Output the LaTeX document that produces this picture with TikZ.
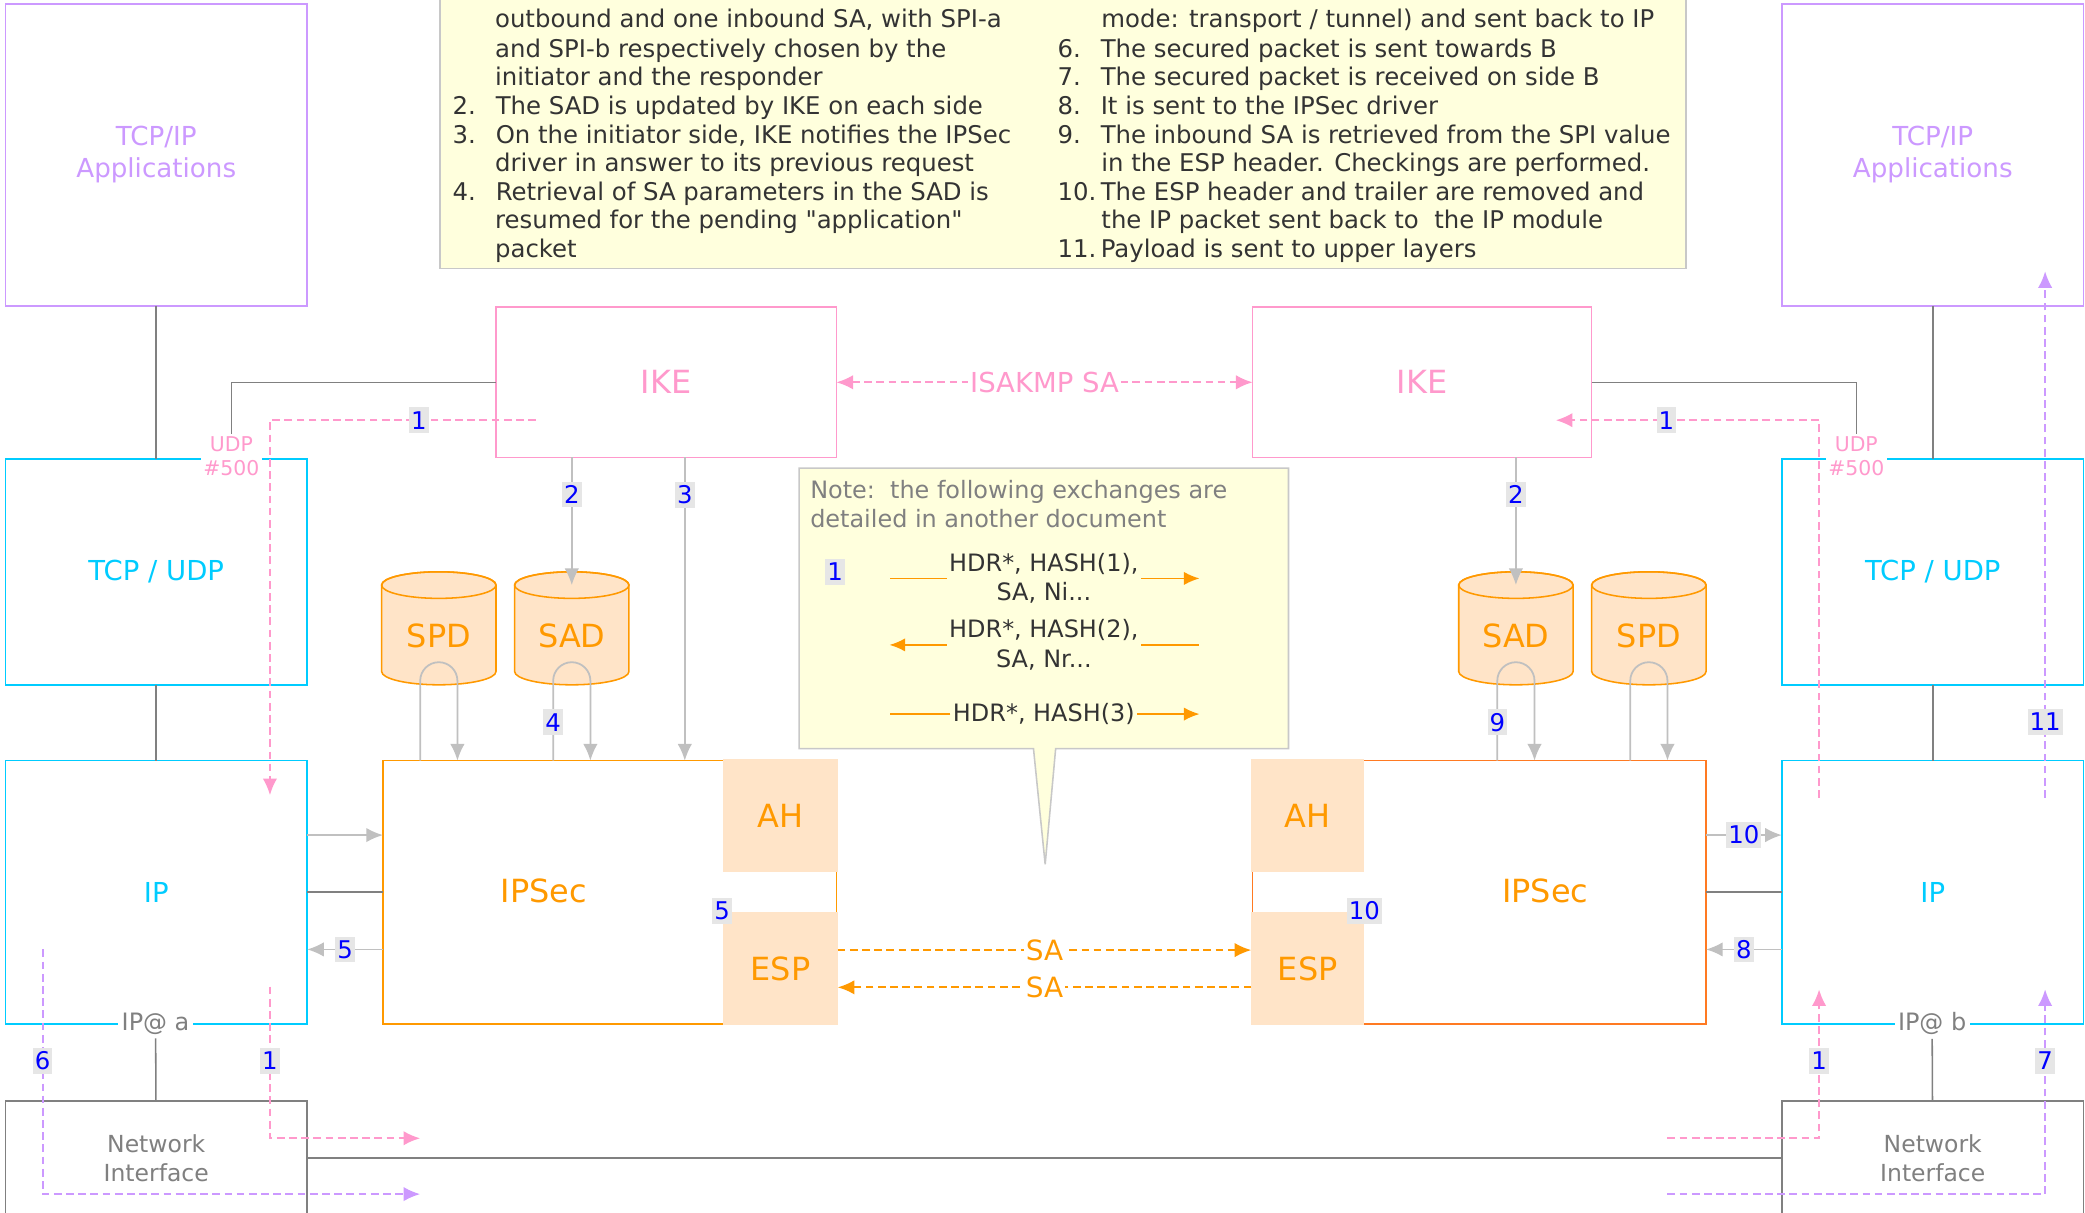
\documentclass[tikz,border=0pt]{standalone}
\usepackage{fontspec}
\setmainfont{DejaVu Sans}[Ligatures=TeXOff]
\usetikzlibrary{arrows.meta,calc,shapes.callouts}
\definecolor{cpurple}{HTML}{CC99FF}
\definecolor{ccyan}{HTML}{00CCFF}
\definecolor{cpink}{HTML}{FF99CC}
\definecolor{corange}{HTML}{FF9900}
\definecolor{corangeR}{HTML}{FF7A22}
\definecolor{cpeach}{HTML}{FFE4C8}
\definecolor{cgray}{HTML}{808080}
\definecolor{clgray}{HTML}{C0C0C0}
\definecolor{cnote}{HTML}{FFFFDD}
\definecolor{cnoteb}{HTML}{C8C8C8}
\definecolor{ctext}{HTML}{333333}
\definecolor{cnum}{HTML}{E6E6E6}
\newcommand\fsz[2]{\fontsize{#1}{#2}\selectfont}
\newcommand\mkbox[7]{\node[#6,minimum width={(#4-#2)*0.6pt},minimum height={(#5-#3)*0.6pt}] (#1) at ({(#2+#4)/2},{(#3+#5)/2}) {#7};}
\newcommand\cyl[1]{%
  \filldraw[fill=cpeach,draw=corange,line width=0.7pt] (#1-43,440) -- (#1-43,505)
    arc[start angle=180,end angle=360,x radius=25.8pt,y radius=6pt] -- (#1+43,440)
    arc[start angle=0,end angle=180,x radius=25.8pt,y radius=6pt] -- cycle;
  \draw[draw=corange,line width=0.7pt] (#1,440) ellipse[x radius=25.8pt,y radius=6pt];}
\newcommand\numbx[1]{\makebox[19.5pt][l]{#1}}
\newcommand\dq{\char34\relax}
\begin{document}
\begin{tikzpicture}[x=0.6pt,y=-0.6pt,
  bx/.style={draw,line width=0.7pt,inner sep=0pt,outer sep=0pt,align=center},
  appb/.style={bx,draw=cpurple,text=cpurple,font=\fsz{11.8}{14.5}},
  netb/.style={bx,draw=ccyan,text=ccyan,font=\fsz{12.4}{15}},
  nib/.style={bx,draw=cgray,text=cgray,font=\fsz{10.6}{13}},
  ikeb/.style={bx,draw=cpink,text=cpink,font=\fsz{14.4}{17}},
  ipsecb/.style={bx,draw=#1},
  fillb/.style={fill=cpeach,inner sep=0pt,outer sep=0pt,text=corange,font=\fsz{14.4}{17}},
  dbn/.style={inner sep=0pt,outer sep=0pt,text=corange,font=\fsz{14.4}{17}},
  bigt/.style={text=corange,font=\fsz{14.4}{17},inner sep=0pt},
  notebox/.style={draw=cnoteb,fill=cnote,line width=0.7pt,inner sep=0pt},
  notet/.style={text=ctext,font=\fsz{11}{13},inner sep=0pt,anchor=base west},
  notegt/.style={text=cgray,font=\fsz{10.8}{13},inner sep=0pt,anchor=base west},
  xch/.style={text=ctext,font=\fsz{10.8}{13.2},align=center,inner xsep=1pt,inner ysep=0pt},
  gline/.style={draw=cgray,line width=0.7pt},
  garrow/.style={draw=clgray,line width=0.8pt,-{Latex[length=7.5pt,width=6.5pt]}},
  pinkd/.style={draw=cpink,line width=0.9pt,dash pattern=on 3.5pt off 2pt,-{Latex[length=7.5pt,width=6.5pt]}},
  pinkdd/.style={draw=cpink,line width=0.9pt,dash pattern=on 3.5pt off 2pt,{Latex[length=7.5pt,width=6.5pt]}-{Latex[length=7.5pt,width=6.5pt]}},
  purpd/.style={draw=cpurple,line width=0.9pt,dash pattern=on 3.5pt off 2pt,-{Latex[length=7.5pt,width=6.5pt]}},
  orad/.style={draw=corange,line width=0.9pt,dash pattern=on 3.5pt off 2pt,-{Latex[length=7.5pt,width=6.5pt]}},
  oline/.style={draw=corange,line width=0.7pt},
  oarrow/.style={draw=corange,line width=0.7pt,-{Latex[length=7pt,width=6pt]}},
  numl/.style={fill=cnum,text=blue,inner xsep=0.9pt,inner ysep=1.8pt,font=\fsz{11}{13},text height=8pt,text depth=0pt},
  wlbl/.style={fill=white,inner sep=1pt},
  addr/.style={fill=white,text=cgray,font=\fsz{10.8}{13},inner sep=1.5pt},
  udpl/.style={fill=white,text=cpink,font=\fsz{9.2}{10.8},align=center,inner sep=1pt}]
\useasboundingbox (0,0) rectangle (1568,912);
\fill[white] (0,0) rectangle (1568,912);

% ---------- top note ----------
\mkbox{notetop}{331}{-20}{1268}{202}{notebox}{}
\foreach \xx/\yy/\txt [count=\i] in {
  372/15/{outbound and one inbound SA, with SPI-a},
  372/37/{and SPI-b respectively chosen by the},
  372/58/{initiator and the responder},
  340/80/{\numbx{2.}The SAD is updated by IKE on each side},
  340/102/{\numbx{3.}On the initiator side, IKE notifies the IPSec},
  372/123/{driver in answer to its previous request},
  340/145/{\numbx{4.}Retrieval of SA parameters in the SAD is},
  372/166/{resumed for the pending \dq application\dq},
  372/188/{packet}}
  {\node[notet] (tl\i) at ({\xx},{\yy+6}) {\txt};}
\foreach \xx/\yy/\txt [count=\i] in {
  828/15/{mode: transport / tunnel) and sent back to IP},
  795/37/{\numbx{6.}The secured packet is sent towards B},
  795/58/{\numbx{7.}The secured packet is received on side B},
  795/80/{\numbx{8.}It is sent to the IPSec driver},
  795/102/{\numbx{9.}The inbound SA is retrieved from the SPI value},
  828/123/{in the ESP header. Checkings are performed.},
  795/145/{\numbx{10.}The ESP header and trailer are removed and},
  828/166/{the IP packet sent back to \ the IP module},
  795/188/{\numbx{11.}Payload is sent to upper layers}}
  {\node[notet] (tr\i) at ({\xx},{\yy+6}) {\txt};}

% ---------- middle note ----------
\node[rectangle callout,notebox,minimum width={368*0.6pt},minimum height={211*0.6pt},
  callout absolute pointer={(786,650)},callout pointer width=10pt] (notemid) at (785,457.5) {};
\node[notegt] (nm1) at (609,375) {Note:\ \ the following exchanges are};
\node[notegt] (nm2) at (609,397) {detailed in another document};
\node[numl] (nnum) at (628,430) {1};
\coordinate (xl) at (669,0);
\coordinate (xr) at (902,0);
\node[xch] (m1) at (785,435) {HDR*, HASH(1),\\SA, Ni...};
\node[xch] (m2) at (785,485) {HDR*, HASH(2),\\SA, Nr...};
\node[xch] (m3) at (785,537) {HDR*, HASH(3)};
\draw[oline] (m1.west) -- (m1.west -| xl);
\draw[oarrow] (m1.east) -- (m1.east -| xr);
\draw[oarrow] (m2.west) -- (m2.west -| xl);
\draw[oline] (m2.east) -- (m2.east -| xr);
\draw[oline] (m3.west) -- (m3.west -| xl);
\draw[oarrow] (m3.east) -- (m3.east -| xr);

% ---------- columns ----------
\mkbox{appL}{4}{3}{231}{230}{appb}{TCP/IP\\Applications}
\mkbox{tcpL}{4}{345}{231}{515}{netb}{TCP / UDP}
\mkbox{ipL}{4}{572}{231}{770}{netb}{IP}
\mkbox{niL}{4}{828}{231}{914}{nib}{Network\\Interface}
\mkbox{appR}{1340}{3}{1567}{230}{appb}{TCP/IP\\Applications}
\mkbox{tcpR}{1340}{345}{1567}{515}{netb}{TCP / UDP}
\mkbox{ipR}{1340}{572}{1567}{770}{netb}{IP}
\mkbox{niR}{1340}{828}{1567}{914}{nib}{Network\\Interface}

\draw[gline] (appL) -- (tcpL);
\draw[gline] (tcpL) -- (ipL);
\draw[gline] (appR) -- (tcpR);
\draw[gline] (tcpR) -- (ipR);
\node[addr] (addrL) at (117,770) {IP@ a};
\node[addr] (addrR) at (1453,770) {IP@ b};
\draw[gline] (addrL) -- (niL);
\draw[gline] (addrR) -- (niR);
\draw[gline] (niL.east) -- (niR.west);

% ---------- IKE ----------
\mkbox{ikeL}{373}{231}{629}{344}{ikeb}{IKE}
\mkbox{ikeR}{942}{231}{1197}{344}{ikeb}{IKE}
\draw[pinkdd] (ikeL.east) -- node[wlbl,text=cpink,font=\fsz{12.4}{15}] {ISAKMP SA} (ikeR.west);
\node[udpl] (udpL) at (174,343) {UDP\\\#500};
\node[udpl] (udpR) at (1396,343) {UDP\\\#500};
\draw[gline] (ikeL.west) -| (udpL.north);
\draw[gline] (ikeR.east) -| (udpR.north);

% ---------- databases ----------
\cyl{330}\cyl{430}\cyl{1140}\cyl{1240}
\mkbox{spdL}{287}{440}{373}{516}{dbn}{SPD}
\mkbox{sadL}{387}{440}{473}{516}{dbn}{SAD}
\mkbox{sadR}{1097}{440}{1183}{516}{dbn}{SAD}
\mkbox{spdR}{1197}{440}{1283}{516}{dbn}{SPD}

% ---------- IPSec ----------
\mkbox{ipsecL}{288}{572}{629}{770}{ipsecb=corange}{}
\mkbox{ipsecR}{942}{572}{1283}{770}{ipsecb=corangeR}{}
\mkbox{ahL}{544}{571}{630}{656}{fillb}{AH}
\mkbox{espL}{544}{686}{630}{771}{fillb}{ESP}
\mkbox{ahR}{941}{571}{1026}{656}{fillb}{AH}
\mkbox{espR}{941}{686}{1026}{771}{fillb}{ESP}
\node[bigt] (ipsecLt) at (409,670) {IPSec};
\node[bigt] (ipsecRt) at (1162,670) {IPSec};
\node[numl] (n5) at (543,685) {5};
\node[numl] (n10) at (1026,685) {10};

% ---------- gray arrows ----------
\draw[garrow] (ikeL.south -| sadL.north) -- node[numl,pos=0.29] {2} (sadL.north);
\draw[garrow] ($(ikeL.south west)+(142,0)$) -- node[numl,pos=0.123] {3} ($(ipsecL.north west)+(227,0)$);
\draw[garrow] (ikeR.south -| sadR.north) -- node[numl,pos=0.29] {2} (sadR.north);
\draw[garrow] ($(ipsecL.north -| spdL.south)+(-14,0)$) -- ($(spdL.south)+(-14,-4)$)
  arc[start angle=180,end angle=0,radius=8.4pt] -- ($(ipsecL.north -| spdL.south)+(14,0)$);
\draw[garrow] ($(ipsecL.north -| sadL.south)+(-14,0)$) -- node[numl,pos=0.48] {4} ($(sadL.south)+(-14,-4)$)
  arc[start angle=180,end angle=0,radius=8.4pt] -- ($(ipsecL.north -| sadL.south)+(14,0)$);
\draw[garrow] ($(ipsecR.north -| sadR.south)+(-14,0)$) -- node[numl,pos=0.48] {9} ($(sadR.south)+(-14,-4)$)
  arc[start angle=180,end angle=0,radius=8.4pt] -- ($(ipsecR.north -| sadR.south)+(14,0)$);
\draw[garrow] ($(ipsecR.north -| spdR.south)+(-14,0)$) -- ($(spdR.south)+(-14,-4)$)
  arc[start angle=180,end angle=0,radius=8.4pt] -- ($(ipsecR.north -| spdR.south)+(14,0)$);

\draw[garrow] ($(ipL.east)+(0,-43)$) -- ($(ipsecL.west)+(0,-43)$);
\draw[gline] (ipL) -- (ipsecL);
\draw[garrow] ($(ipsecL.west)+(0,43)$) -- node[numl] {5} ($(ipL.east)+(0,43)$);
\draw[garrow] ($(ipsecR.east)+(0,-43)$) -- node[numl] {10} ($(ipR.west)+(0,-43)$);
\draw[gline] (ipsecR) -- (ipR);
\draw[garrow] ($(ipR.west)+(0,43)$) -- node[numl] {8} ($(ipsecR.east)+(0,43)$);

% ---------- SA ----------
\draw[orad] ($(espL.east)+(0,-14)$) -- node[wlbl,text=corange,font=\fsz{12.6}{15}] {SA} ($(espR.west)+(0,-14)$);
\draw[orad] ($(espR.west)+(0,14)$) -- node[wlbl,text=corange,font=\fsz{12.6}{15}] {SA} ($(espL.east)+(0,14)$);

% ---------- dashed flows ----------
\coordinate (pL) at (316,856);
\coordinate (vL) at (316,898);
\coordinate (pR) at (1254,856);
\coordinate (vR) at (1254,898);
\draw[pinkd] ($(ikeL.west)+(30,28.5)$) -| node[numl,pos=0.22] {1} ($(ipL.north west)+(199,26)$);
\draw[pinkd] ($(ipR.north west)+(28,28)$) |- node[numl,pos=0.79] {1} ($(ikeR.east)+(-27,28.5)$);
\draw[pinkd] ($(ipL.south west)+(199,-28)$) |- node[numl,pos=0.245] {1} (pL);
\draw[purpd] ($(ipL.south west)+(28,-56)$) |- node[numl,pos=0.228] {6} (vL);
\draw[pinkd] (pR) -| node[numl,pos=0.76] {1} ($(ipR.south west)+(28,-26)$);
\draw[purpd] (vR) -| node[numl,pos=0.825] {7} ($(ipR.south west)+(198,-26)$);
\draw[purpd] ($(ipR.north west)+(198,28)$) -- node[numl,pos=0.144] {11} ($(appR.south west)+(198,-26)$);
\end{tikzpicture}
\end{document}
